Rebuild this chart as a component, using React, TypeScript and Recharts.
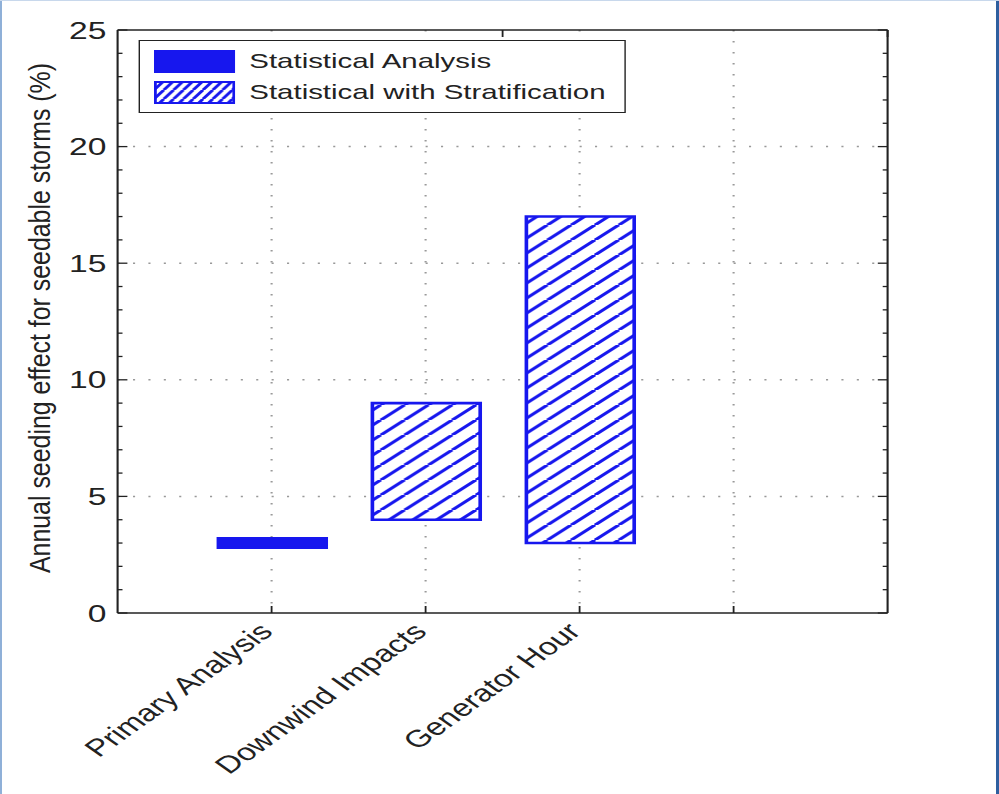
import React from "react";
import { BarChart, Bar, Cell, XAxis, YAxis, CartesianGrid, Legend } from "recharts";

// values
const categories = ["Primary Analysis", "Downwind Impacts", "Generator Hour"];
const seriesNames = ["Statistical Analysis", "Statistical with Stratification"];
const seriesOfCategory = [0, 1, 1];
const lowValues = [2.8, 4, 3];
const highValues = [3.2, 9, 17];

const xTicks = [1, 2, 3, 4];
const yTicks = [
  0, 1, 2, 3, 4, 5, 6, 7, 8, 9, 10, 11, 12, 13, 14, 15, 16, 17, 18, 19, 20, 21,
  22, 23, 24, 25,
];
const gridY = [5, 10, 15, 20];

const data = categories.map((name, i) => ({
  x: i + 1,
  name,
  range: [lowValues[i], highValues[i]],
  series: seriesOfCategory[i],
}));

// the source image is stretched horizontally, so draw narrow and scale
const STRETCH = 1.4;
const W = 714;
const H = 794;
const BLUE = "#1717ee";
const INK = "#222";
const FONT = "'Liberation Sans', Arial, Helvetica, sans-serif";

const LeftTick = (props: any) => {
  const { x, y, payload } = props;
  const v = payload.value;
  const major = v % 5 === 0;
  return (
    <g>
      <line x1={x + 8} x2={x + 8 + (major ? 7 : 3.5)} y1={y} y2={y} stroke={INK} strokeWidth={1.3} />
      {major && (
        <text x={x} y={y} dy="0.36em" textAnchor="end" fontSize={24} fill={INK} fontFamily={FONT}>
          {v}
        </text>
      )}
    </g>
  );
};

const RightTick = (props: any) => {
  const { x, y, payload } = props;
  const major = payload.value % 5 === 0;
  return <line x1={x} x2={x - (major ? 7 : 3.5)} y1={y} y2={y} stroke={INK} strokeWidth={1.3} />;
};

const TopTick = (props: any) => {
  const { x, y } = props;
  return <line x1={x} x2={x} y1={y} y2={y + 7} stroke={INK} strokeWidth={1.3} />;
};

const BottomTick = (props: any) => {
  const { x, y, payload } = props;
  const label = categories[payload.value - 1] ?? "";
  return (
    <g transform={`translate(${x},${y})`}>
      <line x1={0} x2={0} y1={0} y2={-7} stroke={INK} strokeWidth={1.3} />
      {label && (
        <text
          transform="translate(-4,14) rotate(-45)"
          textAnchor="end"
          dy="0.35em"
          fontSize={24}
          fill={INK}
          fontFamily={FONT}
        >
          {label}
        </text>
      )}
    </g>
  );
};

const renderLegend = () => (
  <div
    style={{
      position: "relative",
      boxSizing: "border-box",
      width: 348,
      height: 73,
      border: `1.5px solid ${INK}`,
      background: "#fff",
      fontFamily: FONT,
    }}
  >
    {seriesNames.map((name, i) => (
      <div
        key={name}
        style={{ position: "absolute", left: 10.5, top: 8.5 + i * 31, height: 23, display: "flex", alignItems: "center" }}
      >
        <svg width={58} height={23} style={{ display: "block" }}>
          <rect
            x={1}
            y={1}
            width={56}
            height={21}
            fill={i === 0 ? BLUE : "url(#legendHatch)"}
            stroke={BLUE}
            strokeWidth={2}
          />
        </svg>
        <span style={{ marginLeft: 10, fontSize: 21, color: INK, whiteSpace: "nowrap" }}>{name}</span>
      </div>
    ))}
  </div>
);

const YLabel = () => (
  <text
    x={36}
    y={318}
    transform="rotate(-90 36 318)"
    textAnchor="middle"
    fontSize={20.5}
    textLength={510}
    lengthAdjust="spacingAndGlyphs"
    fill={INK}
    fontFamily={FONT}
  >
    Annual seeding effect for seedable storms (%)
  </text>
);

export default function App() {
  return (
    <div
      style={{
        position: "absolute",
        left: 0,
        top: 0,
        width: 999,
        height: 794,
        overflow: "hidden",
        background: "#fff",
      }}
    >
      <svg width={0} height={0} style={{ position: "absolute" }}>
        <defs>
          <pattern id="hatch" patternUnits="userSpaceOnUse" width={17} height={15}>
            <rect width={17} height={15} fill="#fff" />
            <path d="M-17,15 L0,0 M0,15 L17,0 M17,15 L34,0" stroke={BLUE} strokeWidth={2.8} />
          </pattern>
          <pattern id="legendHatch" patternUnits="userSpaceOnUse" width={7} height={9}>
            <rect width={7} height={9} fill="#fff" />
            <path d="M-7,9 L0,0 M0,9 L7,0 M7,9 L14,0" stroke={BLUE} strokeWidth={2.4} />
          </pattern>
        </defs>
      </svg>
      <div style={{ width: W, height: H, transform: `scaleX(${STRETCH})`, transformOrigin: "0 0" }}>
        <BarChart width={W} height={H} data={data} margin={{ top: 10, right: 60, left: 24, bottom: 0 }}>
          <CartesianGrid
            horizontalValues={gridY}
            verticalValues={xTicks}
            stroke="#999"
            strokeWidth={1.5}
            strokeDasharray="1.5 9.5"
          />
          <XAxis
            dataKey="x"
            type="number"
            domain={[0, 5]}
            ticks={xTicks}
            allowDataOverflow
            height={181}
            tickSize={0}
            tickMargin={0}
            tick={<BottomTick />}
            axisLine={{ stroke: INK, strokeWidth: 1.5 }}
            interval={0}
          />
          <XAxis
            xAxisId="top"
            orientation="top"
            type="number"
            domain={[0, 5]}
            ticks={xTicks}
            allowDataOverflow
            height={20}
            tickSize={0}
            tickMargin={0}
            tick={<TopTick />}
            axisLine={{ stroke: INK, strokeWidth: 1.5 }}
            interval={0}
          />
          <YAxis
            type="number"
            domain={[0, 25]}
            ticks={yTicks}
            allowDataOverflow
            width={60}
            tickSize={0}
            tickMargin={8}
            tick={<LeftTick />}
            axisLine={{ stroke: INK, strokeWidth: 1.5 }}
            interval={0}
            label={{ content: <YLabel /> }}
          />
          <YAxis
            yAxisId="r"
            orientation="right"
            type="number"
            domain={[0, 25]}
            ticks={yTicks}
            allowDataOverflow
            width={20}
            tickSize={0}
            tickMargin={0}
            tick={<RightTick />}
            axisLine={{ stroke: INK, strokeWidth: 1.5 }}
            interval={0}
          />
          <Legend
            layout="vertical"
            align="center"
            verticalAlign="middle"
            wrapperStyle={{ left: 98.6, top: 40, width: 348, height: 73 }}
            content={renderLegend}
          />
          <Bar dataKey="range" barSize={77} stroke={BLUE} strokeWidth={2.6} isAnimationActive={false}>
            {data.map((d) => (
              <Cell key={d.name} fill={d.series === 0 ? BLUE : "url(#hatch)"} />
            ))}
          </Bar>
        </BarChart>
      </div>
      <div style={{ position: "absolute", left: 0, top: 0, width: 2, height: 794, background: "#8fb0d8" }} />
      <div style={{ position: "absolute", right: 0, top: 0, width: 3, height: 794, background: "#2f5f9f" }} />
      <div style={{ position: "absolute", left: 0, top: 0, width: 999, height: 1, background: "#c8d8ec" }} />
    </div>
  );
}
